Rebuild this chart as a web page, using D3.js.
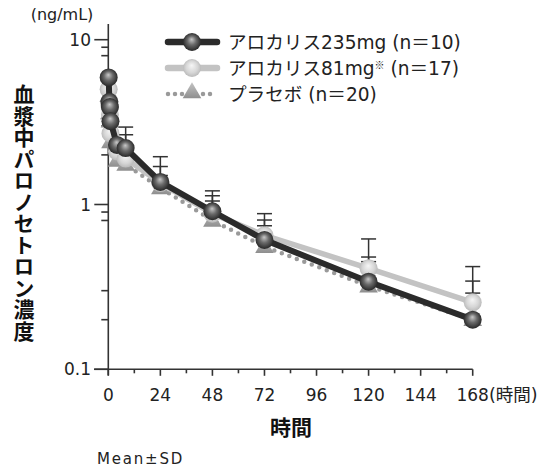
<!DOCTYPE html>
<html><head><meta charset="utf-8">
<script src="https://cdn.jsdelivr.net/npm/d3@7"></script>
<style>
body{margin:0;background:#fff;}
svg{display:block;font-family:"DejaVu Sans","Noto Sans CJK JP",sans-serif;}
</style></head>
<body>
<svg id="chart" width="544" height="470"></svg>
<script>
// ---- data ----
const times = [0.17, 0.5, 0.75, 1, 4, 8, 24, 48, 72, 120, 168];
const series235 = [5.9, 4.2, 3.9, 3.2, 2.3, 2.2, 1.37, 0.91, 0.61, 0.34, 0.20];
const series81 = [5.0, 4.0, 3.5, 2.7, 2.1, 1.9, 1.35, 0.88, 0.65, 0.41, 0.255];
const seriesPlacebo = [4.6, 3.6, 3.2, 2.4, 1.85, 1.75, 1.26, 0.80, 0.555, 0.32, 0.20];
// mean + SD (upper end of error bar); null = not visible
const upper235 = [null, null, null, null, null, 2.95, 1.95, 1.21, 0.805, 0.48, 0.343];
const upper81 = [null, null, null, null, null, 2.65, 1.70, 1.13, 0.88, 0.618, 0.42];
const upperPlacebo = [null, null, null, null, null, null, 1.5, 1.05, 0.743, 0.45, 0.29];
const xTickValues = [0, 24, 48, 72, 96, 120, 144, 168];
const xMinorTicks = [12, 36, 60, 84, 108, 132, 156];
const yTickValues = [0.1, 1, 10];
const yTickLabels = ["0.1", "1", "10"];
const yMinorTicks = [0.2, 0.3, 0.8, 0.9, 2, 3, 8, 9];
const legendLabels = ["アロカリス235mg (n＝10)", "アロカリス81mg", "プラセボ (n＝20)"];

// ---- layout ----
const svg = d3.select("#chart");
const x = d3.scaleLinear().domain([0, 168]).range([108.3, 472.7]);
const y = d3.scaleLog().domain([0.1, 10]).range([369.3, 39.7]);
const axisColor = "#333";
const cjk = "'Noto Sans CJK JP',sans-serif";

// defs: gradients
const defs = svg.append("defs");
function radial(id, stops){
  const g = defs.append("radialGradient").attr("id", id)
    .attr("cx", "50%").attr("cy", "50%").attr("r", "55%").attr("fx", "48%").attr("fy", "35%");
  stops.forEach(s => g.append("stop").attr("offset", s[0]).attr("stop-color", s[1]));
}
radial("gDark", [["0%", "#c8c8c8"], ["45%", "#6a6a6a"], ["100%", "#1e1e1e"]]);
radial("gLight", [["0%", "#f6f6f6"], ["60%", "#d6d6d6"], ["100%", "#b4b4b4"]]);
const lg = defs.append("linearGradient").attr("id", "gTri").attr("x1", 0).attr("y1", 0).attr("x2", 0).attr("y2", 1);
lg.append("stop").attr("offset", "0%").attr("stop-color", "#c4c4c4");
lg.append("stop").attr("offset", "100%").attr("stop-color", "#8e8e8e");

// axes
const yAxisG = svg.append("g");
yAxisG.append("line").attr("x1", x(0)).attr("x2", x(0)).attr("y1", 24).attr("y2", y(0.1) + 6)
  .attr("stroke", axisColor).attr("stroke-width", 1.6);
yAxisG.selectAll(".ymaj").data(yTickValues).join("line")
  .attr("x1", x(0) - 14).attr("x2", x(0)).attr("y1", d => y(d)).attr("y2", d => y(d))
  .attr("stroke", axisColor).attr("stroke-width", 1.6);
yAxisG.selectAll(".ymin").data(yMinorTicks).join("line")
  .attr("x1", x(0) - 7).attr("x2", x(0)).attr("y1", d => y(d)).attr("y2", d => y(d))
  .attr("stroke", axisColor).attr("stroke-width", 1.6);
yAxisG.selectAll(".ylab").data(yTickValues).join("text")
  .attr("x", 91).attr("y", d => y(d)).attr("dy", "0.36em").attr("text-anchor", "end")
  .attr("font-size", 17).attr("fill", "#222").text((d, i) => yTickLabels[i]);

const xAxisG = svg.append("g");
xAxisG.append("line").attr("x1", 94).attr("x2", x(168)).attr("y1", y(0.1)).attr("y2", y(0.1))
  .attr("stroke", axisColor).attr("stroke-width", 1.6);
xAxisG.selectAll(".xmaj").data(xTickValues).join("line")
  .attr("x1", d => x(d)).attr("x2", d => x(d)).attr("y1", y(0.1)).attr("y2", y(0.1) + 6.5)
  .attr("stroke", axisColor).attr("stroke-width", 1.6);
xAxisG.selectAll(".xmin").data(xMinorTicks).join("line")
  .attr("x1", d => x(d)).attr("x2", d => x(d)).attr("y1", y(0.1)).attr("y2", y(0.1) + 4)
  .attr("stroke", axisColor).attr("stroke-width", 1.6);
xAxisG.selectAll(".xlab").data(xTickValues).join("text")
  .attr("x", d => x(d)).attr("y", 401).attr("text-anchor", "middle")
  .attr("font-size", 17).attr("fill", "#222").text(d => d);
svg.append("text").attr("x", 489).attr("y", 401).attr("font-size", 17.5).attr("fill", "#222")
  .text("(時間)");

// titles
svg.append("text").attr("x", 62).attr("y", 20).attr("text-anchor", "middle")
  .attr("font-size", 16).attr("fill", "#222").text("(ng/mL)");
svg.append("text").attr("x", 24).attr("y", 84)
  .attr("writing-mode", "vertical-rl").attr("text-orientation", "upright")
  .style("font-family", cjk)
  .attr("font-size", 21).attr("font-weight", 700).attr("letter-spacing", 0.5).attr("fill", "#111")
  .text("血漿中パロノセトロン濃度");
svg.append("text").attr("x", 291).attr("y", 435).attr("text-anchor", "middle")
  .style("font-family", cjk)
  .attr("font-size", 21).attr("font-weight", 700).attr("fill", "#111").text("時間");
svg.append("text").attr("x", 97).attr("y", 464).attr("font-size", 15).attr("letter-spacing", 1.8).attr("fill", "#222")
  .text("Mean±SD");

// error bars
const errGroups = [
  {mean: seriesPlacebo, up: upperPlacebo},
  {mean: series81, up: upper81},
  {mean: series235, up: upper235}
];
const eb = svg.append("g");
errGroups.forEach(g => {
  times.forEach((t, i) => {
    if (g.up[i] == null) return;
    eb.append("line").attr("x1", x(t)).attr("x2", x(t)).attr("y1", y(g.mean[i])).attr("y2", y(g.up[i]))
      .attr("stroke", "#333").attr("stroke-width", 1.5);
    eb.append("line").attr("x1", x(t) - 7.5).attr("x2", x(t) + 7.5).attr("y1", y(g.up[i])).attr("y2", y(g.up[i]))
      .attr("stroke", "#333").attr("stroke-width", 1.5);
  });
});

const line = d3.line().x(d => x(d[0])).y(d => y(d[1]));
const tri = d3.symbol().type(d3.symbolTriangle).size(150);

function drawPlacebo(g, pts){
  g.append("path").attr("d", line(pts)).attr("fill", "none").attr("stroke", "#9a9a9a")
    .attr("stroke-width", 4.5).attr("stroke-linecap", "round").attr("stroke-dasharray", "0 8");
  g.selectAll(".tri").data(pts).join("path")
    .attr("d", tri).attr("transform", d => `translate(${x(d[0])},${y(d[1]) + 1})`)
    .attr("fill", "url(#gTri)");
}
function drawBallSeries(g, pts, color, width, grad, r){
  g.append("path").attr("d", line(pts)).attr("fill", "none").attr("stroke", color)
    .attr("stroke-width", width).attr("stroke-linejoin", "round");
  g.selectAll(".ball").data(pts).join("circle")
    .attr("cx", d => x(d[0])).attr("cy", d => y(d[1])).attr("r", r)
    .attr("fill", `url(#${grad})`);
}

const pPts = times.map((t, i) => [t, seriesPlacebo[i]]);
const lPts = times.map((t, i) => [t, series81[i]]);
const dPts = times.map((t, i) => [t, series235[i]]);
drawPlacebo(svg.append("g"), pPts);
drawBallSeries(svg.append("g"), lPts, "#c3c3c3", 5.5, "gLight", 9);
drawBallSeries(svg.append("g"), dPts, "#2b2b2b", 6, "gDark", 9);

// legend
const leg = svg.append("g");
const rows = [42, 68, 94];
leg.append("line").attr("x1", 168).attr("x2", 217).attr("y1", rows[0]).attr("y2", rows[0])
  .attr("stroke", "#2b2b2b").attr("stroke-width", 6.5).attr("stroke-linecap", "round");
leg.append("circle").attr("cx", 192).attr("cy", rows[0]).attr("r", 9).attr("fill", "url(#gDark)");
leg.append("line").attr("x1", 168).attr("x2", 217).attr("y1", rows[1]).attr("y2", rows[1])
  .attr("stroke", "#c3c3c3").attr("stroke-width", 6.5).attr("stroke-linecap", "round");
leg.append("circle").attr("cx", 192).attr("cy", rows[1]).attr("r", 9).attr("fill", "url(#gLight)");
leg.append("line").attr("x1", 168).attr("x2", 217).attr("y1", rows[2]).attr("y2", rows[2])
  .attr("stroke", "#9a9a9a").attr("stroke-width", 4.5).attr("stroke-linecap", "round").attr("stroke-dasharray", "0 7");
leg.append("path").attr("d", tri).attr("transform", `translate(192,${rows[2] - 1})`).attr("fill", "url(#gTri)");

const lt = leg.selectAll(".lt").data(legendLabels).join("text")
  .attr("x", 228).attr("y", (d, i) => rows[i]).attr("dy", "0.36em")
  .attr("font-size", 18.6).attr("fill", "#222");
lt.each(function(d, i){
  const t = d3.select(this);
  if (i === 1) {
    t.append("tspan").text(d);
    t.append("tspan").attr("font-size", 10).attr("dy", "-0.6em").style("font-family", cjk).text("※");
    t.append("tspan").attr("dy", "0.33em").attr("font-size", 18.6).text(" (n＝17)");
  } else {
    t.text(d);
  }
});
</script>
</body></html>
